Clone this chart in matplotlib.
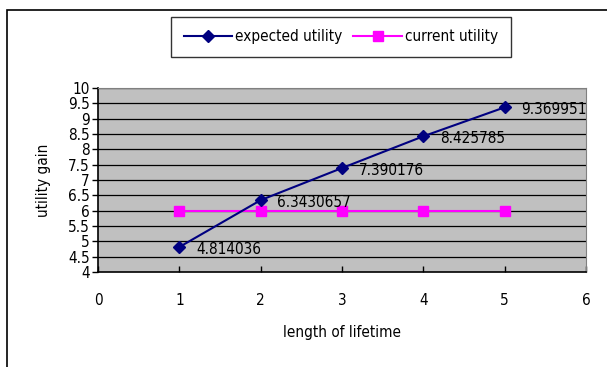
import matplotlib
matplotlib.use('Agg')
import matplotlib.pyplot as plt
from matplotlib import font_manager
import numpy as np

# 数据
lifetime = [1, 2, 3, 4, 5]
expected_utility = [4.814036, 6.3430657, 7.390176, 8.425785, 9.369951]
expected_labels = ['4.814036', '6.3430657', '7.390176', '8.425785', '9.369951']
current_utility = [6, 6, 6, 6, 6]
x_ticks = [0, 1, 2, 3, 4, 5, 6]
y_ticks = [4, 4.5, 5, 5.5, 6, 6.5, 7, 7.5, 8, 8.5, 9, 9.5, 10]

# 找一个窄体字体
narrow = None
for f in font_manager.fontManager.ttflist:
    if 'Narrow' in f.name or ('DejaVu Sans' in f.name and f.stretch == 'condensed'):
        narrow = f
        break
if narrow is not None and 'Narrow' in narrow.name:
    plt.rcParams['font.family'] = [narrow.name, 'Liberation Sans']
elif narrow is not None:
    plt.rcParams['font.family'] = ['DejaVu Sans']
    plt.rcParams['font.stretch'] = 'condensed'
else:
    plt.rcParams['font.family'] = ['Liberation Sans']

fs = 11

fig = plt.figure(figsize=(6.07, 3.67), dpi=100)

# 外框（只看得到左边和上边）
frame = plt.Rectangle((7 / 607, -0.1), 1.2, 1 - 10 / 367 + 0.1, transform=fig.transFigure,
                      fill=False, edgecolor='black', linewidth=1.2)
fig.patches.append(frame)

ax = fig.add_axes([98 / 607, 1 - 272 / 367, (586 - 98) / 607, (272 - 88) / 367])
ax.set_facecolor('#c0c0c0')
ax.set_xlim(0, 6)
ax.set_ylim(4, 10)

for y in y_ticks[1:]:
    ax.axhline(y, color='black', linewidth=0.9, zorder=1)

ax.plot(lifetime, current_utility, color='#ff00ff', marker='s', markersize=7,
        linewidth=1.5, label='current utility', zorder=3)
ax.plot(lifetime, expected_utility, color='#000080', marker='D', markersize=6,
        linewidth=1.5, label='expected utility', zorder=4)

for x, y, s in zip(lifetime, expected_utility, expected_labels):
    ax.annotate(s, (x, y), xytext=(12, -1.5), textcoords='offset points',
                ha='left', va='center', fontsize=fs, color='black')

ax.set_xticks(x_ticks)
ax.set_yticks(y_ticks)
ax.set_yticklabels([f'{v:g}' for v in y_ticks])
ax.tick_params(axis='y', direction='out', length=4, labelsize=fs, pad=2, width=1)
ax.tick_params(axis='x', direction='in', length=4, labelsize=fs, pad=15, width=1)

ax.spines['top'].set_color('#808080')
ax.spines['right'].set_color('#808080')
ax.spines['left'].set_linewidth(1.2)
ax.spines['bottom'].set_linewidth(1.2)

ax.set_ylabel('utility gain', fontsize=fs, labelpad=12)
ax.set_xlabel('length of lifetime', fontsize=fs, labelpad=12)

handles, labels = ax.get_legend_handles_labels()
leg = fig.legend(handles[::-1], labels[::-1], loc='center', bbox_to_anchor=(341 / 607, 1 - 37 / 367),
                 ncol=2, fontsize=fs, frameon=True, fancybox=False, edgecolor='black',
                 handlelength=3.2, columnspacing=0.7, handletextpad=0.2, borderpad=0.85,
                 borderaxespad=0)
leg.get_frame().set_linewidth(1.0)

fig.savefig('out.png', dpi=100)
